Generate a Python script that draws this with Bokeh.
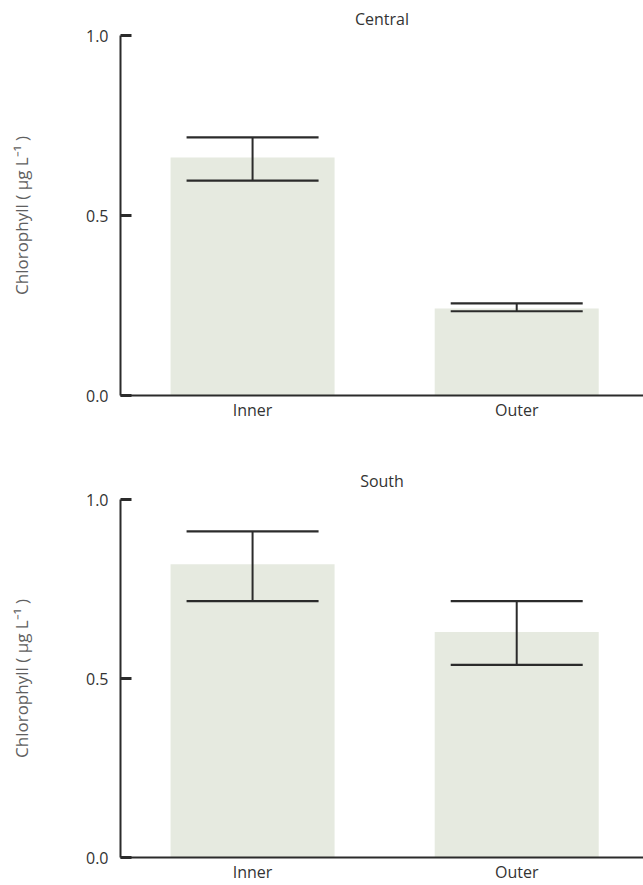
from bokeh.plotting import figure
from bokeh.layouts import column
from bokeh.models import (ColumnDataSource, Range1d, FixedTicker, PrintfTickFormatter,
                          Whisker, TeeHead)
from bokeh.embed import file_html
from bokeh.resources import INLINE

# ---- data ----
sites = ["Inner", "Outer"]
regions = ["Central", "South"]
central_mean = [0.661, 0.242]
central_upper = [0.717, 0.256]
central_lower = [0.597, 0.234]
south_mean = [0.819, 0.630]
south_upper = [0.911, 0.716]
south_lower = [0.716, 0.538]
y_ticks = [0.0, 0.5, 1.0]
y_label = "Chlorophyll ( \u03bcg L\u207b\u00b9 )"

FONT = "Open Sans"
BAR = "#e6eae0"
INK = "#2b2b2b"


def panel(title, means, upper, lower, height, top, bottom, title_gap):
    xs = [i + 0.5 for i in range(len(sites))]
    src = ColumnDataSource(dict(x=xs, mean=means, upper=upper, lower=lower))
    p = figure(width=643, height=height, output_backend="svg", toolbar_location=None,
               x_range=Range1d(0, 1.98), y_range=Range1d(0, 1.0),
               min_border_left=120, min_border_right=0,
               min_border_top=top, min_border_bottom=bottom)
    p.title.text = title
    p.title.align = "center"
    p.title.text_font = FONT
    p.title.text_font_size = "16px"
    p.title.text_font_style = "normal"
    p.title.text_color = "#333333"
    p.title.standoff = title_gap
    p.outline_line_color = None
    p.grid.visible = False

    p.vbar(x="x", top="mean", bottom=0, width=0.621, source=src,
           fill_color=BAR, line_color=None)
    w = Whisker(base="x", upper="upper", lower="lower", source=src,
                line_color=INK, line_width=2, level="overlay",
                upper_head=TeeHead(size=132, line_color=INK, line_width=2.2),
                lower_head=TeeHead(size=132, line_color=INK, line_width=2.2))
    p.add_layout(w)

    # x axis
    xa = p.xaxis[0]
    xa.ticker = FixedTicker(ticks=xs)
    xa.major_label_overrides = {x: s for x, s in zip(xs, sites)}
    xa.major_tick_line_color = None
    xa.minor_tick_line_color = None
    xa.axis_line_width = 2
    xa.axis_line_color = INK
    xa.major_label_standoff = -3
    xa.major_label_text_font = FONT
    xa.major_label_text_font_size = "16px"
    xa.major_label_text_color = "#333333"

    # y axis
    ya = p.yaxis[0]
    ya.ticker = FixedTicker(ticks=y_ticks)
    ya.formatter = PrintfTickFormatter(format="%.1f")
    ya.major_tick_in = 11
    ya.major_tick_out = 0
    ya.major_tick_line_width = 3
    ya.major_tick_line_color = INK
    ya.minor_tick_line_color = None
    ya.axis_line_width = 2
    ya.axis_line_color = INK
    ya.major_label_standoff = 12
    ya.major_label_text_font = FONT
    ya.major_label_text_font_size = "16px"
    ya.major_label_text_color = "#333333"
    ya.axis_label = y_label
    ya.axis_label_text_font = FONT
    ya.axis_label_text_font_size = "17px"
    ya.axis_label_text_font_style = "normal"
    ya.axis_label_text_color = "#606060"
    ya.axis_label_standoff = 50
    return p


p1 = panel(regions[0], central_mean, central_upper, central_lower, 440, 35, 45, 11)
p2 = panel(regions[1], south_mean, south_upper, south_lower, 445, 59, 27, 15)

layout = column(p1, p2, spacing=0)
open("out.html", "w").write(file_html(layout, INLINE))
